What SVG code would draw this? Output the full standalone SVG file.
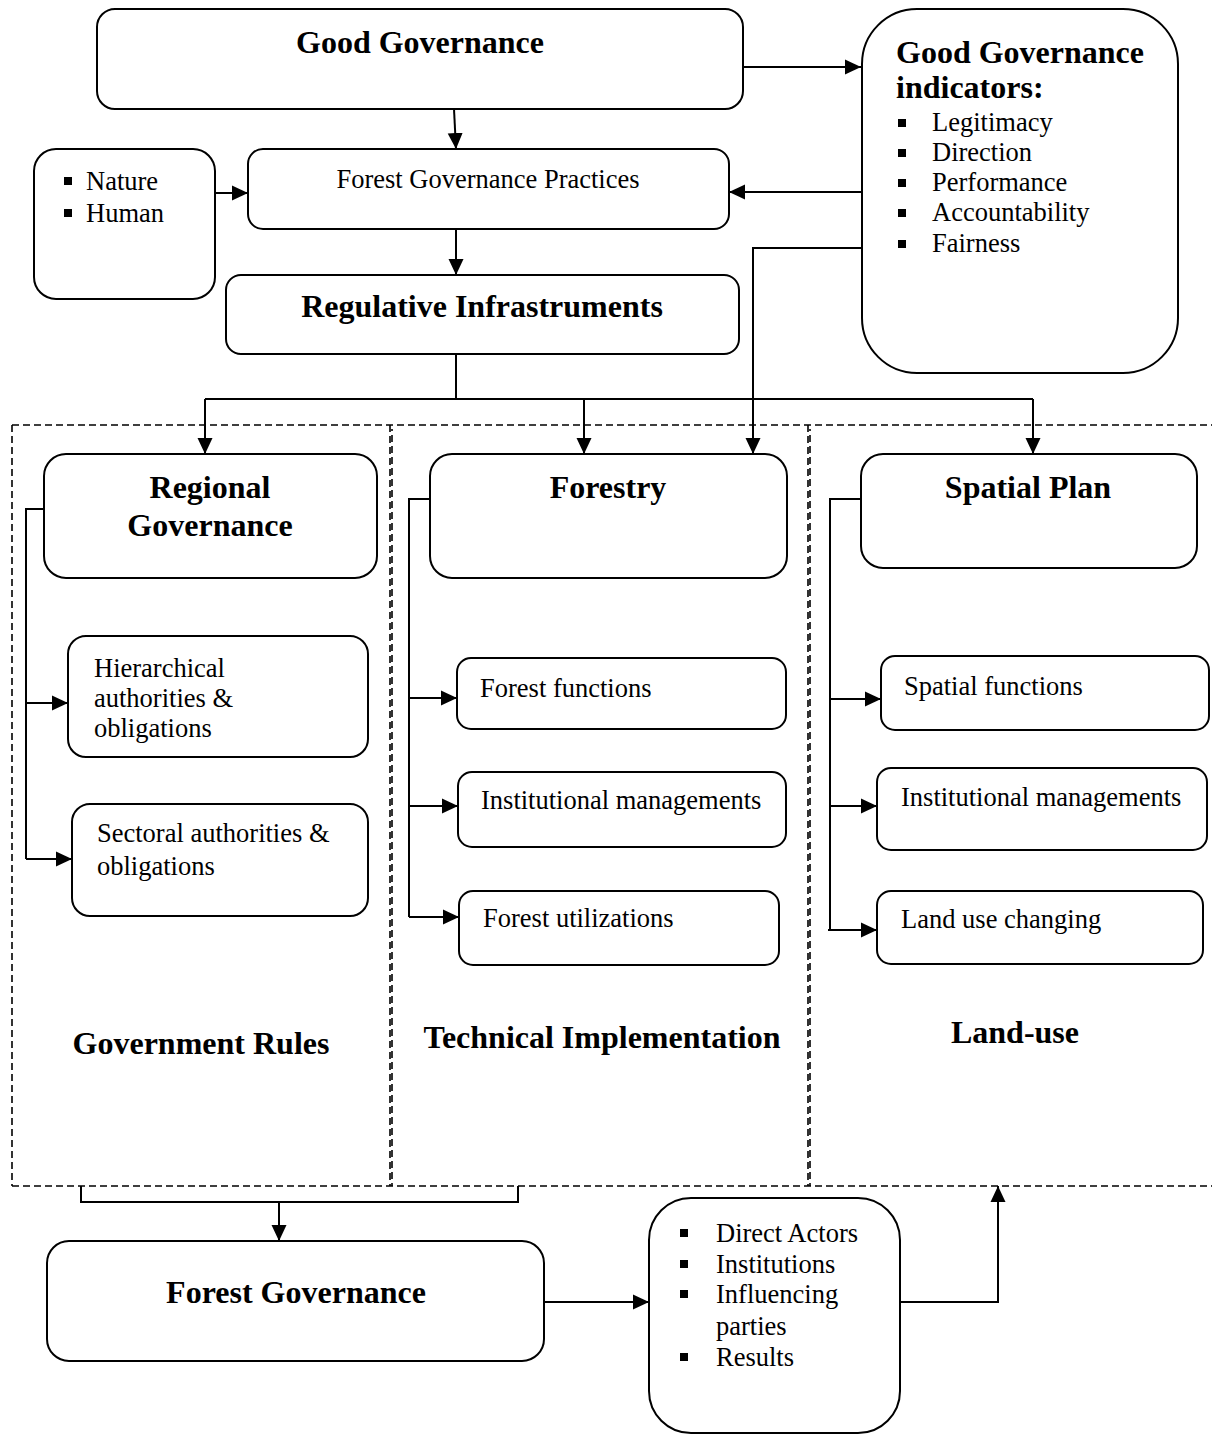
<svg xmlns="http://www.w3.org/2000/svg" width="1212" height="1434" viewBox="0 0 1212 1434">
<style>
.box{fill:#fff;stroke:#000;stroke-width:2}
.ln{fill:none;stroke:#000;stroke-width:2}
.arr{fill:none;stroke:#000;stroke-width:2;marker-end:url(#ah)}
.dash{fill:none;stroke:#000;stroke-width:1.6;stroke-dasharray:7 4}
.b{font-family:"Liberation Serif","Times New Roman",serif;font-weight:bold;font-size:32px;fill:#000}
.n{font-family:"Liberation Serif","Times New Roman",serif;font-size:26.5px;fill:#000}
.c{text-anchor:middle}
</style>
<defs>
<marker id="ah" markerUnits="userSpaceOnUse" markerWidth="17" markerHeight="16" refX="16" refY="8" orient="auto">
<path d="M0,0.5 L16,8 L0,15.5 z" fill="#000"/>
</marker>
<rect id="sq" width="8" height="8" fill="#000"/>
</defs>
<rect width="1212" height="1434" fill="#fff"/>

<g id="frame">
<path class="dash" d="M12,425 H1212"/>
<path class="dash" d="M12,1186 H1212"/>
<path class="dash" d="M12,425 V1186"/>
<path class="dash" d="M390,425 V1186"/>
<path class="dash" d="M392,429 V1186" stroke-dashoffset="5"/>
<path class="dash" d="M808,425 V1186"/>
<path class="dash" d="M810,429 V1186" stroke-dashoffset="5"/>
</g>

<g id="connectors">
<path class="arr" d="M454,109 L456,149"/>
<path class="arr" d="M743,67 H861"/>
<path class="arr" d="M215,193 H248"/>
<path class="arr" d="M862,192 H729"/>
<path class="arr" d="M456,229 V275"/>
<path class="ln" d="M456,354 V399 M205,399 H1033"/>
<path class="arr" d="M205,399 V454"/>
<path class="arr" d="M584,399 V454"/>
<path class="arr" d="M1033,399 V454"/>
<path class="arr" d="M862,248 H753 V454"/>
<path class="ln" d="M44,509 H26 V859"/>
<path class="arr" d="M26,703 H68"/>
<path class="arr" d="M26,859 H72"/>
<path class="ln" d="M430,499 H409 V917"/>
<path class="arr" d="M409,698 H457"/>
<path class="arr" d="M409,806 H458"/>
<path class="arr" d="M409,917 H459"/>
<path class="ln" d="M861,499 H830 V930"/>
<path class="arr" d="M830,699 H881"/>
<path class="arr" d="M830,806 H877"/>
<path class="arr" d="M828,930 H877"/>
<path class="ln" d="M81,1186 V1202 H518 V1186"/>
<path class="arr" d="M279,1202 V1241"/>
<path class="arr" d="M544,1302 H649"/>
<path class="arr" d="M900,1302 H998 V1186"/>
</g>

<g id="good-governance">
<rect class="box" x="97" y="9" width="646" height="100" rx="18"/>
<text class="b c" x="420" y="53">Good Governance</text>
</g>

<g id="gg-indicators">
<rect class="box" x="862" y="9" width="316" height="364" rx="55"/>
<text class="b" x="896" y="63">Good Governance</text>
<text class="b" x="896" y="98">indicators:</text>
<use href="#sq" x="898" y="119"/>
<use href="#sq" x="898" y="149"/>
<use href="#sq" x="898" y="179"/>
<use href="#sq" x="898" y="209"/>
<use href="#sq" x="898" y="240"/>
<text class="n" x="932" y="131">Legitimacy</text>
<text class="n" x="932" y="161">Direction</text>
<text class="n" x="932" y="191">Performance</text>
<text class="n" x="932" y="221">Accountability</text>
<text class="n" x="932" y="252">Fairness</text>
</g>

<g id="nature-human">
<rect class="box" x="34" y="149" width="181" height="150" rx="22"/>
<use href="#sq" x="64" y="177"/>
<use href="#sq" x="64" y="209"/>
<text class="n" x="86" y="190">Nature</text>
<text class="n" x="86" y="222">Human</text>
</g>

<g id="fg-practices">
<rect class="box" x="248" y="149" width="481" height="80" rx="15"/>
<text class="n c" x="488" y="188">Forest Governance Practices</text>
</g>

<g id="regulative">
<rect class="box" x="226" y="275" width="513" height="79" rx="15"/>
<text class="b c" x="482" y="317">Regulative Infrastruments</text>
</g>

<g id="regional-governance">
<rect class="box" x="44" y="454" width="333" height="124" rx="22"/>
<text class="b c" x="210" y="498">Regional</text>
<text class="b c" x="210" y="536">Governance</text>
</g>

<g id="hierarchical">
<rect class="box" x="68" y="636" width="300" height="121" rx="18"/>
<text class="n" x="94" y="677">Hierarchical</text>
<text class="n" x="94" y="707">authorities &amp;</text>
<text class="n" x="94" y="737">obligations</text>
</g>

<g id="sectoral">
<rect class="box" x="72" y="804" width="296" height="112" rx="18"/>
<text class="n" x="97" y="842">Sectoral authorities &amp;</text>
<text class="n" x="97" y="875">obligations</text>
</g>

<g id="forestry">
<rect class="box" x="430" y="454" width="357" height="124" rx="22"/>
<text class="b c" x="608" y="498">Forestry</text>
</g>

<g id="forest-functions">
<rect class="box" x="457" y="658" width="329" height="71" rx="14"/>
<text class="n" x="480" y="697">Forest functions</text>
</g>

<g id="forest-institutional">
<rect class="box" x="458" y="772" width="328" height="75" rx="14"/>
<text class="n" x="481" y="809">Institutional managements</text>
</g>

<g id="forest-utilizations">
<rect class="box" x="459" y="891" width="320" height="74" rx="14"/>
<text class="n" x="483" y="927">Forest utilizations</text>
</g>

<g id="spatial-plan">
<rect class="box" x="861" y="454" width="336" height="114" rx="22"/>
<text class="b c" x="1028" y="498">Spatial Plan</text>
</g>

<g id="spatial-functions">
<rect class="box" x="881" y="656" width="328" height="74" rx="14"/>
<text class="n" x="904" y="695">Spatial functions</text>
</g>

<g id="spatial-institutional">
<rect class="box" x="877" y="768" width="330" height="82" rx="14"/>
<text class="n" x="901" y="806">Institutional managements</text>
</g>

<g id="land-use-changing">
<rect class="box" x="877" y="891" width="326" height="73" rx="14"/>
<text class="n" x="901" y="928">Land use changing</text>
</g>

<g id="column-titles">
<text class="b c" x="201" y="1054">Government Rules</text>
<text class="b c" x="602" y="1048">Technical Implementation</text>
<text class="b c" x="1015" y="1043">Land-use</text>
</g>

<g id="forest-governance">
<rect class="box" x="47" y="1241" width="497" height="120" rx="22"/>
<text class="b c" x="296" y="1303">Forest Governance</text>
</g>

<g id="actors">
<rect class="box" x="649" y="1198" width="251" height="235" rx="42"/>
<use href="#sq" x="680" y="1229"/>
<use href="#sq" x="680" y="1260"/>
<use href="#sq" x="680" y="1290"/>
<use href="#sq" x="680" y="1353"/>
<text class="n" x="716" y="1242">Direct Actors</text>
<text class="n" x="716" y="1273">Institutions</text>
<text class="n" x="716" y="1303">Influencing</text>
<text class="n" x="716" y="1335">parties</text>
<text class="n" x="716" y="1366">Results</text>
</g>
</svg>
